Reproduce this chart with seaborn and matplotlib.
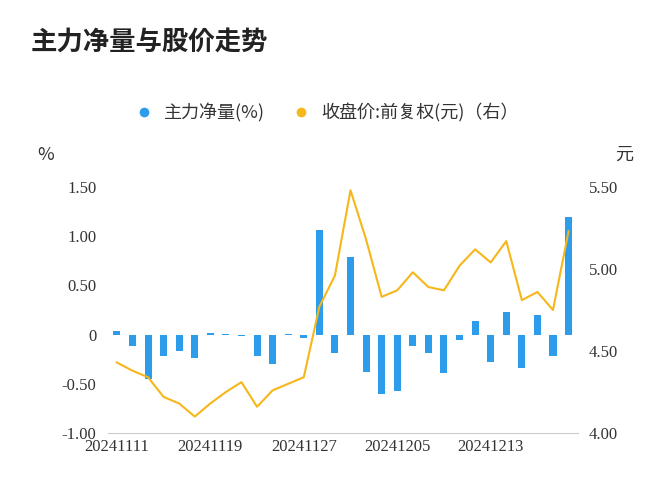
import matplotlib
matplotlib.use("Agg")
import matplotlib.pyplot as plt
import seaborn as sns
import pandas as pd
import numpy as np
from matplotlib.lines import Line2D

plt.rcParams["font.family"] = "sans-serif"
plt.rcParams["font.sans-serif"] = ["Noto Sans CJK SC", "Noto Sans CJK JP", "DejaVu Sans"]

dates = ["20241111","20241112","20241113","20241114","20241115","20241118","20241119","20241120","20241121","20241122",
         "20241125","20241126","20241127","20241128","20241129","20241202","20241203","20241204","20241205","20241206",
         "20241209","20241210","20241211","20241212","20241213","20241216","20241217","20241218","20241219","20241220"]
net_flow = [0.04,-0.12,-0.45,-0.22,-0.17,-0.24,0.02,0.01,-0.01,-0.22,-0.30,0.01,-0.03,1.06,-0.19,0.79,-0.38,-0.60,-0.57,-0.12,
            -0.19,-0.39,-0.05,0.14,-0.28,0.23,-0.34,0.20,-0.22,1.20]
close = [4.43,4.38,4.34,4.22,4.18,4.10,4.18,4.25,4.31,4.16,4.26,4.30,4.34,4.77,4.96,5.48,5.18,4.83,4.87,4.98,
         4.89,4.87,5.02,5.12,5.04,5.17,4.81,4.86,4.75,5.23]

df = pd.DataFrame({"date": dates, "flow": net_flow, "close": close, "x": np.arange(len(dates))})
blue = "#2d9cea"; gold = "#f5b719"

fig = plt.figure(figsize=(6.72, 5.0), dpi=100)
ax = fig.add_axes([0.16, 0.134, 0.70, 0.492])
sns.barplot(data=df, x="x", y="flow", color=blue, width=0.45, ax=ax, saturation=1)
ax2 = ax.twinx()
sns.lineplot(data=df, x="x", y="close", color=gold, lw=1.5, ax=ax2)

ax.set_ylim(-1.0, 1.5)
ax.set_yticks([-1.0,-0.5,0,0.5,1.0,1.5])
ax.set_yticklabels(["-1.00","-0.50","0","0.50","1.00","1.50"])
ax2.set_ylim(4.0, 5.5)
ax2.set_yticks([4.0,4.5,5.0,5.5])
ax2.set_yticklabels(["4.00","4.50","5.00","5.50"])
ax.set_xlim(-0.6, 29.6)
ticks = [0,6,12,18,24]
ax.set_xticks(ticks)
ax.set_xticklabels([dates[i] for i in ticks])
for a in (ax, ax2):
    a.set_xlabel(""); a.set_ylabel("")
    for s in a.spines.values(): s.set_visible(False)
    a.tick_params(length=0, labelsize=12, colors="#333333", pad=8)
ax.spines["bottom"].set_visible(True); ax.spines["bottom"].set_color("#cccccc")
ax.tick_params(axis="x", pad=4)
for lab in ax.get_yticklabels()+ax2.get_yticklabels()+ax.get_xticklabels():
    lab.set_fontfamily("Liberation Serif")

fig.text(0.045, 0.9, "主力净量与股价走势", fontsize=19, fontweight="bold", color="#222222")
fig.text(0.055, 0.68, "%", fontsize=13, color="#333333")
fig.text(0.915, 0.68, "元", fontsize=13, color="#333333")
handles = [Line2D([0],[0], marker="o", color="w", markerfacecolor=blue, markersize=8),
           Line2D([0],[0], marker="o", color="w", markerfacecolor=gold, markersize=8)]
fig.legend(handles, ["主力净量(%)", "收盘价:前复权(元)（右）"], loc="center", bbox_to_anchor=(0.48, 0.775),
           ncol=2, frameon=False, fontsize=13, handletextpad=0.1, columnspacing=1.0, labelcolor="#333333")
fig.savefig("out.png", dpi=100)
